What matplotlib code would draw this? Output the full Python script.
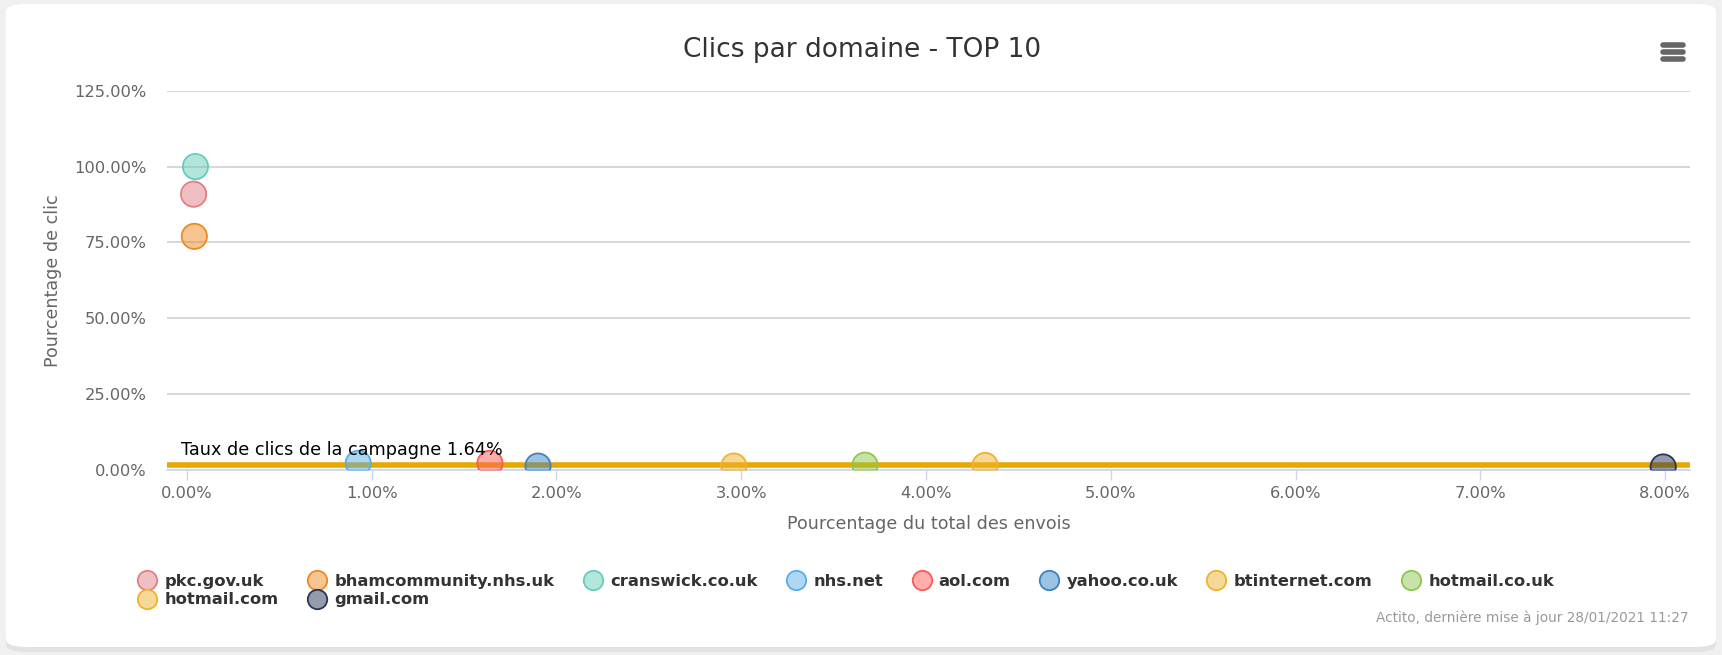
import numpy as np
import matplotlib.pyplot as plt
from matplotlib.colors import to_rgb
from matplotlib.patches import FancyBboxPatch
from matplotlib.lines import Line2D
from matplotlib.ticker import FuncFormatter, MultipleLocator

# --- data ---
domains = ["pkc.gov.uk", "bhamcommunity.nhs.uk", "cranswick.co.uk", "nhs.net",
           "aol.com", "yahoo.co.uk", "btinternet.com", "hotmail.co.uk",
           "hotmail.com", "gmail.com"]
send_share = [0.036, 0.040, 0.046, 0.927, 1.64, 1.90, 2.96, 3.67, 4.32, 7.99]
click_rate = [90.9, 77.0, 100.0, 2.2, 2.2, 1.3, 1.3, 1.6, 1.5, 1.0]
colors = ["#e17f83", "#ee8a24", "#66ccbb", "#5aaee8", "#ff5a5a",
          "#3a84c4", "#efb22f", "#8ec74f", "#efb22f", "#26375b"]
campaign_rate = 1.64

W, H = 1722, 655
plt.rcParams["font.family"] = ["DejaVu Sans"]
fig = plt.figure(figsize=(W / 100, H / 100), dpi=100)
fig.patch.set_facecolor("#f0f0f0")

# card
shadow = FancyBboxPatch((6 / W, 3 / H), 1710 / W, 644 / H,
                        boxstyle="round,pad=0,rounding_size=0.012",
                        transform=fig.transFigure, fc="#e2e2e2", ec="none", zorder=-3)
card = FancyBboxPatch((6 / W, 8 / H), 1710 / W, 643 / H,
                      boxstyle="round,pad=0,rounding_size=0.012",
                      transform=fig.transFigure, fc="white", ec="none", zorder=-2)
fig.add_artist(shadow)
fig.add_artist(card)

# axes placement (pixels from the reference)
left, right, top, bottom = 167, 1690, 90.7, 470
ax = fig.add_axes([left / W, (H - bottom) / H, (right - left) / W, (bottom - top) / H])
ax.set_zorder(1)
ax.set_facecolor("none")
ax.set_xlim(-0.108, 8.135)
ax.set_ylim(0, 125)

ax.yaxis.set_major_locator(MultipleLocator(25))
ax.xaxis.set_major_locator(MultipleLocator(1))
pct = FuncFormatter(lambda v, p: f"{v:.2f}%")
ax.xaxis.set_major_formatter(pct)
ax.yaxis.set_major_formatter(pct)

ax.grid(axis="y", color="#cccccc", lw=1.1)
ax.grid(axis="x", visible=False)
ax.set_axisbelow(True)
for s in ("top", "right", "left"):
    ax.spines[s].set_visible(False)
ax.spines["bottom"].set_color("#ccd6eb")
ax.spines["bottom"].set_linewidth(1.2)
ax.tick_params(axis="x", length=7.5, width=1, color="#ccd6eb", pad=4,
               labelsize=11.7, labelcolor="#666666")
ax.tick_params(axis="y", length=0, pad=15, labelsize=11.7, labelcolor="#666666")

# campaign plot line
ax.axhline(campaign_rate, color="#e8a800", lw=4, zorder=2)
ax.annotate(f"Taux de clics de la campagne {campaign_rate}%", xy=(0, campaign_rate),
            xytext=(-4, 7), textcoords="offset points", fontsize=12.7,
            color="black", zorder=5)

# bubbles
for name, x, y, c in zip(domains, send_share, click_rate, colors):
    ax.scatter(x, y, s=330, color=c, alpha=0.5, lw=0, zorder=3)
    ax.scatter(x, y, s=330, facecolor="none", edgecolor=c, lw=1.3, zorder=3)

ax.set_xlabel("Pourcentage du total des envois", fontsize=12.6, color="#666666")
ax.xaxis.set_label_coords(0.5, -0.118)
ax.set_ylabel("Pourcentage de clic", fontsize=12.6, color="#666666")
ax.yaxis.set_label_coords(-0.069, 0.5)

fig.text(862 / W, 1 - 50 / H, "Clics par domaine - TOP 10", ha="center", va="center",
         fontsize=19, color="#333333")

# legend: 8 per row, filled row by row
handles = [Line2D([], [], ls="none", marker="o", ms=14,
                  mfc=tuple(0.5 + 0.5 * np.array(to_rgb(c))), mec=c, mew=1.3)
           for c in colors]
order = [0, 8, 1, 9, 2, 3, 4, 5, 6, 7]
leg = fig.legend([handles[i] for i in order], [domains[i] for i in order],
                 loc="upper left", bbox_to_anchor=(131 / W, 1 - 566 / H),
                 ncol=8, frameon=False, handletextpad=0.55, columnspacing=1.85,
                 labelspacing=0.2, borderpad=0, handlelength=1.0,
                 prop={"weight": "bold", "size": 11.8})
for t in leg.get_texts():
    t.set_color("#333333")

fig.text(1689 / W, 1 - 618 / H, "Actito, dernière mise à jour 28/01/2021 11:27",
         ha="right", va="center", fontsize=9.8, color="#999999")

# context menu icon
for yy in (45, 52, 59):
    fig.add_artist(Line2D([1663 / W, 1683 / W], [1 - yy / H, 1 - yy / H],
                          color="#666666", lw=4, solid_capstyle="round"))

fig.savefig("out.png", dpi=100, facecolor=fig.get_facecolor())
